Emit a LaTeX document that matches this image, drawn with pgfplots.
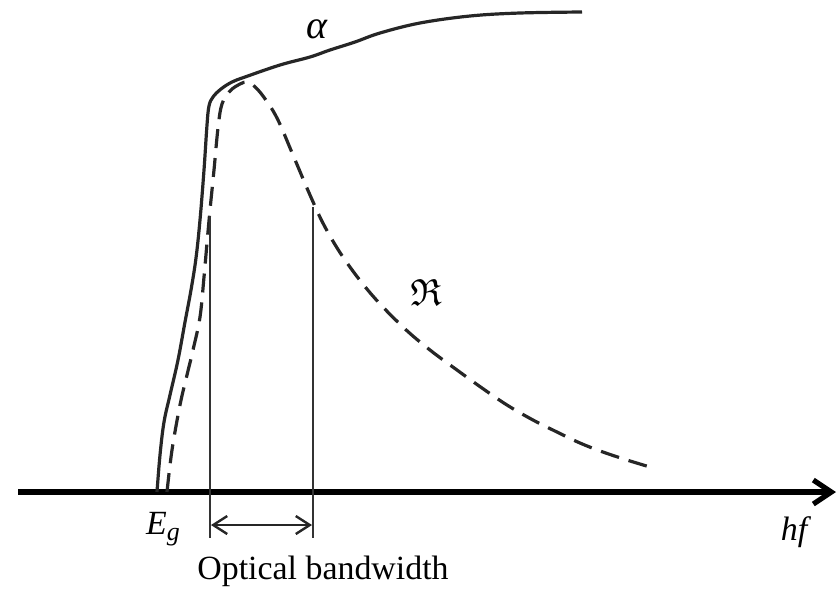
\documentclass[border=0pt]{standalone}
\usepackage{amssymb}
\usepackage{pgfplots}
\pgfplotsset{compat=1.18}
\usetikzlibrary{arrows.meta}
\usepackage{fontspec}
\setmainfont{Liberation Serif}

% Absorption coefficient (alpha)
\pgfplotstableread{
x y
157 492
160 455
164 422
170 395
178 360
185 322
191 290
196 258
200 220
204 170
207 125
209 106
213 97
221 89
232 82
245 77
280 65
310 57
330 50
355 42
380 33
420 23
470 16
520 13
582 12
}\alphadata

% Responsivity (R)
\pgfplotstableread{
x y
167 492
172 450
180 405
187 375
193 350
200 317
204 277
207 243
210 210
214 170
218 128
222 104
230 91
240 84
247 82
253 85
263 96
277 118
293 155
310 195
325 227
345 260
372 295
403 327
430 350
457 370
482 388
507 405
533 420
557 432
580 443
603 452
627 460
650 467
}\respdata

\begin{document}
\begin{tikzpicture}
\begin{axis}[
  scale only axis, width=420bp, height=295.5bp,
  xmin=0, xmax=840, ymin=0, ymax=591, y dir=reverse,
  hide axis, clip=false,
]
\path (axis cs:0,0) rectangle (axis cs:840,591);
% photon-energy axis
\draw[line width=3bp, -{Straight Barb[length=9bp,width=12bp,line width=2.6bp]}]
  (axis cs:18,492) -- (axis cs:836,492);
% curves
\addplot[line width=1.6bp, smooth, tension=0.6, black!85] table[x=x,y=y] {\alphadata};
\addplot[line width=1.6bp, smooth, tension=0.6, black!85,
  dash pattern=on 9.5bp off 5bp] table[x=x,y=y] {\respdata};
% bandwidth markers
\draw[line width=0.7bp, black!80] (axis cs:210,216) -- (axis cs:210,538);
\draw[line width=0.7bp, black!80] (axis cs:313,207) -- (axis cs:313,538);
\draw[line width=1.2bp, black!85,
  {Straight Barb[length=7bp,width=9bp]}-{Straight Barb[length=7bp,width=9bp]}]
  (axis cs:211,525) -- (axis cs:312,525);
% labels
\node[font=\fontsize{20}{22}\selectfont\itshape] at (axis cs:317,29) {α};
\node[font=\fontsize{19}{22}\selectfont] at (axis cs:426,292) {$\mathfrak{R}$};
\node[font=\fontsize{17}{20}\selectfont] at (axis cs:163,529) {\textit{E}\raisebox{-0.35ex}{\fontsize{13}{14}\selectfont\textit{g}}};
\node[font=\fontsize{17}{20}\selectfont] at (axis cs:796,532) {\textit{hf}};
\node[font=\fontsize{17}{20}\selectfont, anchor=base] at (axis cs:323,579) {Optical bandwidth};
\end{axis}
\end{tikzpicture}
\end{document}
